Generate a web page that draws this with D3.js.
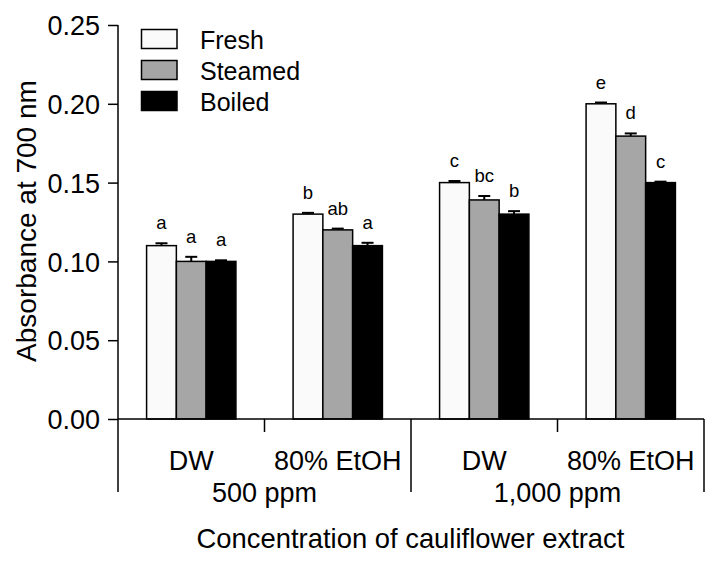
<!DOCTYPE html>
<html>
<head>
<meta charset="utf-8">
<script src="https://cdn.jsdelivr.net/npm/d3@7"></script>
<style>
  html, body { margin: 0; padding: 0; background: #fff; }
  svg { display: block; }
  text { font-family: "Liberation Sans", Arial, Helvetica, sans-serif; fill: #000; }
</style>
</head>
<body>
<svg id="chart" width="719" height="563"></svg>
<script>
// ---- data ----
const concentrations = ["500 ppm", "1,000 ppm"];
const solvents = ["DW", "80% EtOH"];
const series = ["Fresh", "Steamed", "Boiled"];
const seriesColors = ["#fafafa", "#a6a6a6", "#000000"];
const fresh   = [0.110, 0.130, 0.150, 0.200];
const steamed = [0.100, 0.120, 0.139, 0.1795];
const boiled  = [0.100, 0.110, 0.130, 0.150];
const freshErr   = [0.0015, 0.0008, 0.0010, 0.0008];
const steamedErr = [0.0029, 0.0008, 0.0025, 0.0017];
const boiledErr  = [0.0007, 0.0018, 0.0019, 0.0006];
const freshLetters   = ["a", "b", "c", "e"];
const steamedLetters = ["a", "ab", "bc", "d"];
const boiledLetters  = ["a", "a", "b", "c"];
const yTicks = [0, 0.05, 0.10, 0.15, 0.20, 0.25];
const yLabel = "Absorbance at 700 nm";
const xLabel = "Concentration of cauliflower extract";

const values = [fresh, steamed, boiled];
const errors = [freshErr, steamedErr, boiledErr];
const letters = [freshLetters, steamedLetters, boiledLetters];

const groups = [];
concentrations.forEach(c => solvents.forEach(s => groups.push(c + "|" + s)));

// ---- layout ----
const svg = d3.select("#chart");
const plotLeft = 118, plotRight = 704, plotTop = 25, plotBottom = 419, sepBottom = 492;

const x0 = d3.scaleBand().domain(groups).range([plotLeft, plotRight]).paddingInner(0).paddingOuter(0);
const x1 = d3.scaleBand().domain(series).range([0, x0.bandwidth()]).paddingInner(0).paddingOuter(0.96);
const y = d3.scaleLinear().domain([0, 0.25]).range([plotBottom, plotTop]);
const xc = d3.scaleBand().domain(concentrations).range([plotLeft, plotRight]);

// bars
series.forEach((s, si) => {
  const g = svg.append("g");
  groups.forEach((grp, gi) => {
    const v = values[si][gi], e = errors[si][gi];
    const bx = x0(grp) + x1(s);
    const cx = bx + x1.bandwidth() / 2;
    g.append("line").attr("x1", cx).attr("x2", cx)
      .attr("y1", y(v)).attr("y2", y(v + e))
      .attr("stroke", "#000").attr("stroke-width", 2);
    g.append("line").attr("x1", cx - 6).attr("x2", cx + 6)
      .attr("y1", y(v + e)).attr("y2", y(v + e))
      .attr("stroke", "#000").attr("stroke-width", 2);
    g.append("rect")
      .attr("x", bx).attr("y", y(v))
      .attr("width", x1.bandwidth()).attr("height", y(0) - y(v))
      .attr("fill", seriesColors[si]).attr("stroke", "#000").attr("stroke-width", 1.5);
    g.append("text")
      .attr("x", cx).attr("y", y(v + e) - 14)
      .attr("text-anchor", "middle").attr("font-size", 18.5)
      .text(letters[si][gi]);
  });
});

// y axis
const yAxis = d3.axisLeft(y).tickValues(yTicks).tickFormat(d3.format(".2f")).tickSize(10).tickPadding(8);
const yg = svg.append("g").attr("transform", `translate(${plotLeft},0)`).call(yAxis);
yg.select(".domain").remove();
yg.selectAll(".tick line").attr("stroke", "#000").attr("stroke-width", 1.5);
yg.selectAll(".tick text").attr("font-size", 27).attr("font-family", "Liberation Sans, Arial, sans-serif").attr("fill", "#000").attr("dy", "0.36em");
svg.append("line").attr("x1", plotLeft).attr("x2", plotLeft).attr("y1", plotTop).attr("y2", sepBottom)
  .attr("stroke", "#000").attr("stroke-width", 1.5);

// x axis line
svg.append("line").attr("x1", plotLeft).attr("x2", plotRight).attr("y1", plotBottom).attr("y2", plotBottom)
  .attr("stroke", "#000").attr("stroke-width", 1.5);

// separators and labels
concentrations.forEach(c => {
  const xr = xc(c) + xc.bandwidth();
  svg.append("line").attr("x1", xr).attr("x2", xr).attr("y1", plotBottom).attr("y2", sepBottom)
    .attr("stroke", "#000").attr("stroke-width", 1.5);
  const xm = xc(c) + xc.bandwidth() / 2;
  svg.append("line").attr("x1", xm).attr("x2", xm).attr("y1", plotBottom).attr("y2", 432)
    .attr("stroke", "#000").attr("stroke-width", 1.5);
  svg.append("text").attr("x", xm).attr("y", 502).attr("text-anchor", "middle")
    .attr("font-size", 27).text(c);
});
groups.forEach(grp => {
  svg.append("text").attr("x", x0(grp) + x0.bandwidth() / 2).attr("y", 470)
    .attr("text-anchor", "middle").attr("font-size", 27).text(grp.split("|")[1]);
});

// axis titles
svg.append("text").attr("x", (plotLeft + plotRight) / 2 - 0.5).attr("y", 548)
  .attr("text-anchor", "middle").attr("font-size", 27.4).text(xLabel);
svg.append("text").attr("transform", "translate(36,221) rotate(-90)")
  .attr("text-anchor", "middle").attr("font-size", 28).text(yLabel);

// legend
const legend = svg.append("g");
series.forEach((s, i) => {
  const ly = 29.5 + i * 31;
  legend.append("rect").attr("x", 141.5).attr("y", ly).attr("width", 35.5).attr("height", 19)
    .attr("fill", seriesColors[i]).attr("stroke", "#000").attr("stroke-width", 1.5);
  legend.append("text").attr("x", 200).attr("y", ly + 19).attr("font-size", 25).text(s);
});
</script>
</body>
</html>
